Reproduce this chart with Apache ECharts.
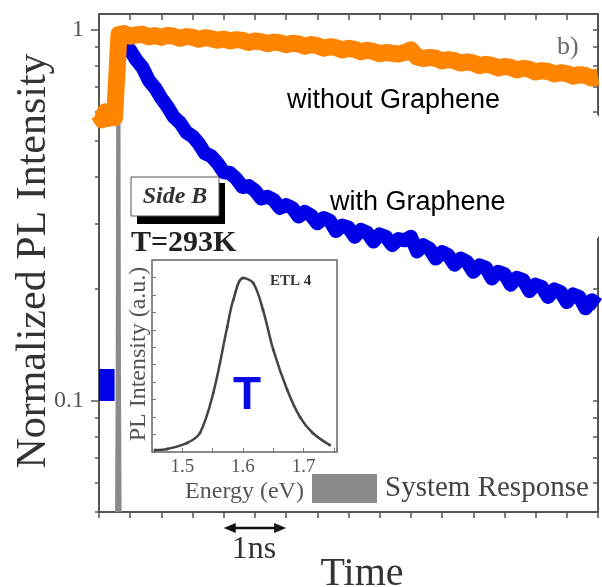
<!DOCTYPE html>
<html>
<head>
<meta charset="utf-8">
<script src="https://cdn.jsdelivr.net/npm/echarts@6/dist/echarts.min.js"></script>
<style>
  html, body { margin: 0; padding: 0; background: #fff; }
  #chart { width: 602px; height: 587px; }
</style>
</head>
<body>
<div id="chart"></div>
<script>
// Time-resolved PL, Side B, T = 293 K (time in ns, intensity normalised)
const preTime   = [0, 0.05, 0.1, 0.15, 0.2, 0.25, 0.28];
const preOrange = [0.59, 0.57, 0.60, 0.575, 0.595, 0.578, 0.585];
const preBlueTime = [0, 0.25];
const preBlue     = [0.11, 0.11];

const decayTime = [0.32, 0.4, 0.5, 0.6, 0.7, 0.8, 0.9, 1.0, 1.1, 1.2, 1.3, 1.4, 1.5, 1.6, 1.7, 1.8, 1.9,
  2.0, 2.1, 2.2, 2.3, 2.4, 2.5, 2.6, 2.7, 2.8, 2.9, 3.0, 3.1, 3.2, 3.3, 3.4, 3.5, 3.6, 3.7, 3.8, 3.9,
  4.0, 4.1, 4.2, 4.3, 4.4, 4.5, 4.6, 4.7, 4.8, 4.9, 5.0, 5.1, 5.2, 5.3, 5.4, 5.5, 5.6, 5.7, 5.8, 5.9,
  6.0, 6.1, 6.2, 6.3, 6.4, 6.5, 6.6, 6.7, 6.8, 6.9, 7.0, 7.1, 7.2, 7.3, 7.4, 7.5, 7.6, 7.7, 7.8, 7.9, 8.0];

// without graphene
const orangeDecay = [0.968, 0.975, 0.958, 0.966, 0.970, 0.955, 0.962, 0.952, 0.963, 0.958, 0.946, 0.956, 0.952, 0.940, 0.949, 0.944, 0.935,
  0.942, 0.930, 0.938, 0.934, 0.922, 0.930, 0.926, 0.915, 0.924, 0.920, 0.909, 0.917, 0.913, 0.901, 0.910, 0.904, 0.890, 0.898, 0.893, 0.880,
  0.889, 0.883, 0.870, 0.878, 0.872, 0.860, 0.866, 0.862, 0.858, 0.866, 0.880, 0.842, 0.834, 0.840, 0.836, 0.822, 0.829, 0.824, 0.811, 0.817,
  0.812, 0.798, 0.805, 0.800, 0.787, 0.794, 0.790, 0.777, 0.785, 0.781, 0.767, 0.774, 0.770, 0.758, 0.764, 0.760, 0.748, 0.755, 0.751, 0.739, 0.744];

// with graphene
const blueDecay = [0.950, 0.915, 0.878, 0.826, 0.788, 0.728, 0.695, 0.652, 0.618, 0.580, 0.560, 0.528, 0.515, 0.492, 0.463, 0.455, 0.436,
  0.412, 0.410, 0.396, 0.376, 0.378, 0.368, 0.350, 0.354, 0.347, 0.330, 0.336, 0.330, 0.313, 0.322, 0.315, 0.300, 0.310, 0.305, 0.286, 0.296,
  0.292, 0.276, 0.288, 0.283, 0.268, 0.280, 0.276, 0.262, 0.272, 0.270, 0.276, 0.252, 0.262, 0.256, 0.241, 0.251, 0.246, 0.232, 0.241, 0.236,
  0.222, 0.231, 0.228, 0.213, 0.222, 0.219, 0.205, 0.214, 0.211, 0.197, 0.205, 0.202, 0.190, 0.199, 0.196, 0.184, 0.193, 0.190, 0.177, 0.186, 0.181];

// instrument response
const responseTime  = [0.29, 0.30, 0.31, 0.32, 0.33];
const responseValue = [0.05, 0.12, 1.0, 0.12, 0.05];

// inset: PL spectrum (ETL 4)
const energyEv    = [1.455, 1.475, 1.508, 1.529, 1.551, 1.574, 1.584, 1.600, 1.617, 1.633, 1.650, 1.673, 1.694, 1.715, 1.743];
const plIntensity = [0.011, 0.017, 0.052, 0.109, 0.338, 0.716, 0.871, 0.997, 0.968, 0.814, 0.585, 0.355, 0.200, 0.109, 0.040];

const minorLogTicks = [0.05, 0.06, 0.07, 0.08, 0.09, 0.2, 0.3, 0.4, 0.5, 0.6, 0.7, 0.8, 0.9];
const majorLogTicks = [0.1, 1];

const SERIF = "'Liberation Serif', 'Times New Roman', serif";
const SANS = "'Liberation Sans', Arial, sans-serif";
const AXIS_GREY = '#555';

const pairs = (xs, ys) => xs.map((x, i) => [x, ys[i]]);

const chart = echarts.init(document.getElementById('chart'), null, { renderer: 'canvas' });

const xBase = {
  type: 'value', min: 0, max: 8, interval: 0.5, gridIndex: 0,
  axisLine: { show: true, lineStyle: { color: AXIS_GREY, width: 2 } },
  axisLabel: { show: false },
  splitLine: { show: false }
};
const yBase = {
  type: 'log', logBase: 10, min: 0.05, max: 1.1, gridIndex: 0,
  splitLine: { show: false }
};

chart.setOption({
  animation: false,
  backgroundColor: '#fff',
  grid: [
    { left: 99, right: 4, top: 14, bottom: 75 },
    { left: 152, top: 260, width: 185, height: 192, show: true, borderColor: '#666', borderWidth: 1.5, backgroundColor: 'transparent' }
  ],
  legend: {
    left: 312, top: 474, padding: 0,
    data: ['System Response'],
    icon: 'rect', itemWidth: 65, itemHeight: 29, itemGap: 0,
    textStyle: { fontFamily: SERIF, fontSize: 29, color: '#444', padding: [0, 0, 0, 3] }
  },
  xAxis: [
    Object.assign({}, xBase, { position: 'bottom', axisTick: { inside: false, length: 6, lineStyle: { color: AXIS_GREY, width: 1.5 } } }),
    Object.assign({}, xBase, { position: 'top', axisTick: { inside: true, length: 6, lineStyle: { color: AXIS_GREY, width: 1.5 } } }),
    {
      type: 'value', gridIndex: 1, min: 1.45, max: 1.755, interval: 0.05,
      axisLine: { show: false },
      axisTick: { inside: true, length: 4, lineStyle: { color: '#777' } },
      axisLabel: { customValues: [1.5, 1.6, 1.7], margin: 6, fontFamily: SERIF, fontSize: 19, color: '#555',
        formatter: v => v.toFixed(1) },
      splitLine: { show: false },
      name: 'Energy (eV)', nameLocation: 'middle', nameGap: 28,
      nameTextStyle: { fontFamily: SERIF, fontSize: 24, color: '#555' }
    }
  ],
  yAxis: [
    Object.assign({}, yBase, {
      position: 'left',
      axisLine: { show: true, lineStyle: { color: AXIS_GREY, width: 2 } },
      axisTick: { show: true, inside: false, length: 4, customValues: minorLogTicks, lineStyle: { color: AXIS_GREY, width: 1.5 } },
      axisLabel: { show: true, customValues: majorLogTicks, margin: 15, fontFamily: SERIF, fontSize: 24, color: '#555',
        formatter: v => (v >= 1 ? '1' : '0.1') }
    }),
    Object.assign({}, yBase, {
      position: 'left',
      axisLine: { show: false },
      axisTick: { show: true, inside: false, length: 8, customValues: majorLogTicks, lineStyle: { color: AXIS_GREY, width: 1.5 } },
      axisLabel: { show: false }
    }),
    Object.assign({}, yBase, {
      position: 'right',
      axisLine: { show: true, lineStyle: { color: AXIS_GREY, width: 2 } },
      axisTick: { show: true, inside: true, length: 5, customValues: minorLogTicks.concat(majorLogTicks), lineStyle: { color: AXIS_GREY, width: 1.5 } },
      axisLabel: { show: false }
    }),
    {
      type: 'value', gridIndex: 1, min: 0, max: 1.1, interval: 0.1,
      axisLine: { show: false },
      axisTick: { show: true, inside: true, length: 4, lineStyle: { color: '#777' } },
      axisLabel: { show: false },
      splitLine: { show: false }
    }
  ],
  series: [
    {
      name: 'System Response', type: 'line', xAxisIndex: 0, yAxisIndex: 0,
      data: pairs(responseTime, responseValue),
      showSymbol: false, z: 1,
      lineStyle: { color: '#8a8a8a', width: 4 }, itemStyle: { color: '#8a8a8a' }
    },
    {
      name: 'with Graphene (pre)', type: 'line', xAxisIndex: 0, yAxisIndex: 0,
      data: pairs(preBlueTime, preBlue), showSymbol: false, z: 2,
      lineStyle: { color: '#0000e6', width: 32 }
    },
    {
      name: 'with Graphene', type: 'line', xAxisIndex: 0, yAxisIndex: 0,
      data: pairs(decayTime, blueDecay), showSymbol: false, z: 3,
      lineStyle: { color: '#0000e6', width: 14, join: 'round' }
    },
    {
      name: 'without Graphene', type: 'line', xAxisIndex: 0, yAxisIndex: 0,
      data: pairs(preTime, preOrange).concat(pairs(decayTime, orangeDecay)),
      showSymbol: false, z: 4,
      lineStyle: { color: '#ff8400', width: 17, join: 'round' }
    },
    {
      name: 'ETL 4', type: 'line', xAxisIndex: 2, yAxisIndex: 3,
      data: pairs(energyEv, plIntensity), smooth: 0.35,
      symbol: 'circle', symbolSize: 3, showSymbol: true,
      lineStyle: { color: '#444', width: 2.5 }, itemStyle: { color: '#444' }
    }
  ]
});

// Annotations: labels, boxes and the 1 ns scale arrow
const px = (t, v) => chart.convertToPixel({ xAxisIndex: 0, yAxisIndex: 0 }, [t, v]);
const arrowL = px(2, 0.05)[0];
const arrowR = px(3, 0.05)[0];
const arrowY = 528;

const textEl = (text, x, y, font, fill, align) => ({
  type: 'text', z: 100,
  style: { text, x, y, font, fill, align: align || 'left', verticalAlign: 'middle',
           textAlign: align || 'left', textVerticalAlign: 'middle' }
});
// vertical text, reading bottom to top, centred on (cx, cy)
const vTextEl = (text, cx, cy, font, fill) => ({
  type: 'text', z: 100, x: cx, y: cy, rotation: Math.PI / 2,
  style: { text, x: 0, y: 0, font, fill, align: 'center', verticalAlign: 'middle',
           textAlign: 'center', textVerticalAlign: 'middle' }
});

chart.setOption({
  graphic: [
    // label background
    { type: 'rect', z: 90, shape: { x: 470, y: 113, width: 130, height: 127, r: 8 }, style: { fill: '#fff' } },
    textEl('without Graphene', 287, 101, `27px ${SANS}`, '#000'),
    textEl('with Graphene', 330, 203, `27px ${SANS}`, '#000'),
    textEl('b)', 557, 47, `26px ${SERIF}`, '#6a6a6a'),
    // Side B tag with drop shadow
    { type: 'rect', z: 95, shape: { x: 137, y: 183, width: 88, height: 41 }, style: { fill: '#000' } },
    { type: 'rect', z: 96, shape: { x: 131, y: 177, width: 88, height: 39 }, style: { fill: '#fff', stroke: '#555', lineWidth: 1 } },
    textEl('Side B', 175, 197, `italic bold 24px ${SERIF}`, '#333', 'center'),
    textEl('T=293K', 131, 243, `bold 30px ${SERIF}`, '#222'),
    // inset
    textEl('ETL 4', 270, 281, `bold 15px ${SERIF}`, '#333'),
    vTextEl('PL Intensity (a.u.)', 139, 354, `24px ${SERIF}`, '#555'),
    textEl('T', 247, 396, `bold 46px ${SANS}`, '#0a0ae6', 'center'),
    // axis titles
    vTextEl('Normalized PL Intensity', 34, 261, `42px ${SERIF}`, '#333'),
    textEl('Time', 362, 574, `40px ${SERIF}`, '#333', 'center'),
    textEl('1ns', 254, 550, `32px ${SERIF}`, '#333', 'center'),
    // 1 ns scale arrow
    { type: 'line', z: 100, shape: { x1: arrowL + 6, y1: arrowY, x2: arrowR - 6, y2: arrowY }, style: { stroke: '#111', lineWidth: 2.5 } },
    { type: 'polygon', z: 100, shape: { points: [[arrowL, arrowY], [arrowL + 12, arrowY - 5], [arrowL + 12, arrowY + 5]] }, style: { fill: '#111' } },
    { type: 'polygon', z: 100, shape: { points: [[arrowR, arrowY], [arrowR - 12, arrowY - 5], [arrowR - 12, arrowY + 5]] }, style: { fill: '#111' } }
  ]
});
</script>
</body>
</html>
